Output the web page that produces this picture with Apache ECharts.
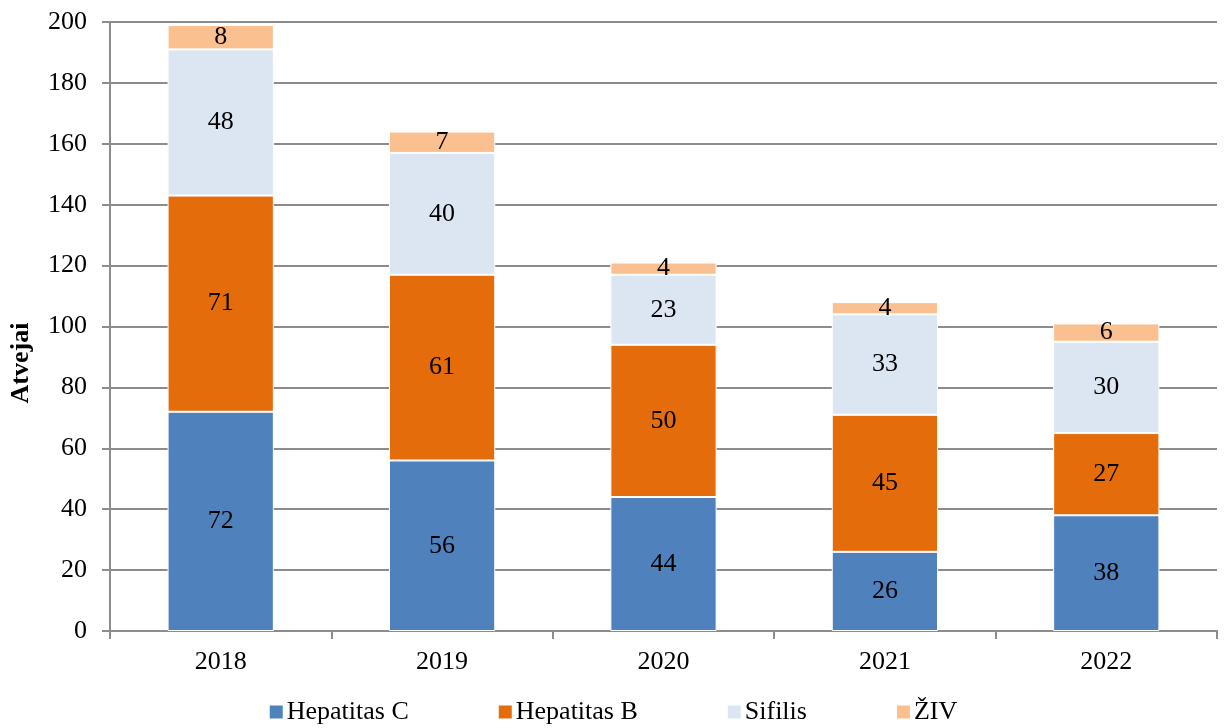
<!DOCTYPE html>
<html><head><meta charset="utf-8">
<script src="https://cdn.jsdelivr.net/npm/echarts@6/dist/echarts.min.js"></script>
<style>html,body{margin:0;padding:0;background:#fff}#c{width:1225px;height:728px}</style>
</head><body><div id="c"></div>
<script>
const years = ['2018','2019','2020','2021','2022'];
const hepC = [72,56,44,26,38];
const hepB = [71,61,50,45,27];
const sifilis = [48,40,23,33,30];
const ziv = [8,7,4,4,6];
const seriesNames = ['Hepatitas C','Hepatitas B','Sifilis','ŽIV'];
const axisTitle = 'Atvejai';
const colors = ['#4F81BD','#E46C0A','#DCE6F2','#FAC090'];
const font = 'Liberation Serif';
const data = [hepC, hepB, sifilis, ziv];
const chart = echarts.init(document.getElementById('c'));
chart.setOption({
  animation:false,
  textStyle:{fontFamily:font},
  grid:{left:110,right:8,top:22,bottom:97,containLabel:false,outerBoundsMode:'none'},
  graphic:[{type:'text',x:21,y:363,rotation:Math.PI/2,
    style:{text:axisTitle,fontFamily:font,fontSize:26,fontWeight:'bold',fill:'#000',align:'center',verticalAlign:'middle'}}],
  legend:{bottom:-2,left:'center',itemWidth:15,itemHeight:15,itemGap:88,icon:'rect',
    textStyle:{fontFamily:font,fontSize:26,color:'#000',padding:[0,0,0,-2]},
    data:seriesNames},
  xAxis:{type:'category',data:years,
    axisLine:{lineStyle:{color:'#8c8c8c',width:2}},
    axisTick:{show:true,length:8,alignWithLabel:false,lineStyle:{color:'#8c8c8c',width:2}},
    axisLabel:{fontFamily:font,fontSize:26,color:'#000',margin:18}},
  yAxis:{type:'value',min:0,max:200,interval:20,
    axisLine:{show:true,lineStyle:{color:'#8c8c8c',width:2}},
    axisTick:{show:true,length:8,lineStyle:{color:'#8c8c8c',width:2}},
    splitLine:{lineStyle:{color:'#8c8c8c',width:2}},
    axisLabel:{fontFamily:font,fontSize:26,color:'#000',margin:23}},
  series: seriesNames.map((n,i)=>({
    name:n,type:'bar',stack:'total',barWidth:'48%',data:data[i],
    itemStyle:{color:colors[i],borderColor:'#fff',borderWidth:1},
    label:{show:true,position:'inside',fontFamily:font,fontSize:26,color:'#000'}
  }))
});
</script></body></html>
